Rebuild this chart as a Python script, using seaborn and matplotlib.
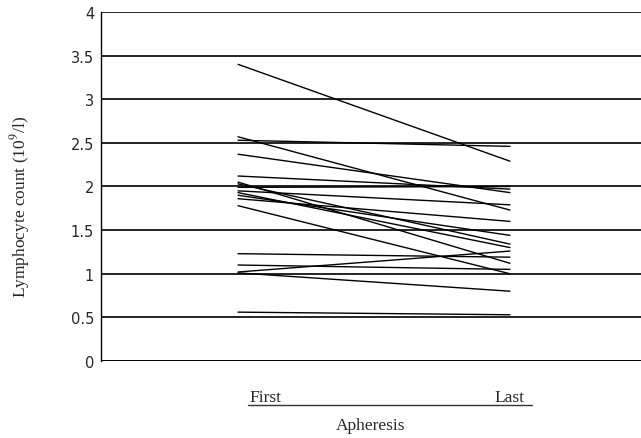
import numpy as np
import pandas as pd
import matplotlib
matplotlib.use("Agg")
import matplotlib.pyplot as plt
import seaborn as sns

# values (10^9/l)
first_counts = [3.40, 2.57, 2.53, 2.37, 2.12, 1.99, 2.05, 2.03, 1.95,
                1.93, 1.90, 1.86, 1.78, 1.23, 1.10, 1.02, 1.01, 0.56]
last_counts = [2.29, 1.73, 2.46, 1.93, 1.97, 2.00, 1.12, 1.34, 1.79,
               1.30, 1.44, 1.60, 1.00, 1.19, 1.05, 1.26, 0.80, 0.53]
stage_labels = ["First", "Last"]
y_ticks = [0, 0.5, 1, 1.5, 2, 2.5, 3, 3.5, 4]
y_tick_labels = ["0", "0.5", "1", "1.5", "2", "2.5", "3", "3.5", "4"]

n = len(first_counts)
df = pd.DataFrame({
    "patient": list(range(n)) * 2,
    "stage": [0] * n + [1] * n,
    "count": first_counts + last_counts,
})

sns.set_style("white")
plt.rcParams["mathtext.fontset"] = "stix"

fig = plt.figure(figsize=(6.41, 4.39), dpi=100)
ax = fig.add_axes([0.1576, 0.1754, 0.8424, 0.7950])

sns.lineplot(data=df, x="stage", y="count", units="patient", estimator=None,
             color="black", linewidth=1.0, ax=ax, legend=False)

ax.set_xlim(-0.504, 1.482)
ax.set_ylim(0, 4)
ax.set_yticks(y_ticks)
ax.set_yticklabels(y_tick_labels, fontfamily="DejaVu Sans", fontsize=10.5)
ax.tick_params(axis="y", length=3, width=0.8, color="black", pad=2)

for v in y_ticks[1:]:
    ax.axhline(v, color="black", linewidth=1.2, zorder=0)

for side in ["right", "top", "bottom"]:
    ax.spines[side].set_visible(False)
ax.spines["left"].set_color("black")
ax.spines["left"].set_linewidth(1.0)
ax.axhline(0, color="black", linewidth=1.4, zorder=0)

# stage labels under the plot with an underline
ax.set_xticks([0.1, 1.0])
ax.set_xticklabels(stage_labels, fontfamily="Liberation Serif", fontsize=12.5)
ax.tick_params(axis="x", length=0, pad=20)
ax.plot([0.037, 1.081], [-0.126, -0.126], color="#333333", linewidth=1.0,
        transform=ax.get_xaxis_transform(), clip_on=False)

ax.set_xlabel("Apheresis", fontfamily="Liberation Serif", fontsize=12.5, labelpad=9)
ax.set_ylabel("Lymphocyte count (10$^9$/l)", fontfamily="Liberation Serif",
              fontsize=12.5)
ax.yaxis.set_label_coords(-0.128, 0.445)

fig.savefig("out.png", dpi=100)
